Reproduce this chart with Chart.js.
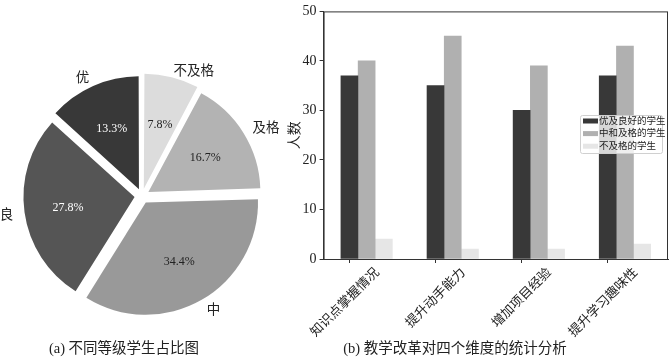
<!DOCTYPE html>
<html>
<head>
<meta charset="utf-8">
<script src="https://cdn.jsdelivr.net/npm/chart.js@4"></script>
<style>
  body { margin: 0; background: #fff; }
  #wrap { position: relative; width: 670px; height: 357px; overflow: hidden; }
  canvas { position: absolute; top: 0; }
  .cap { position: absolute; top: 336px; font: 14.5px 'Liberation Serif', 'Noto Sans CJK SC', serif; color: #222; white-space: nowrap; transform: translateX(-50%); }
</style>
</head>
<body>
<div id="wrap">
  <canvas id="pie" width="280" height="357" style="left:0"></canvas>
  <canvas id="bar" width="390" height="357" style="left:280px"></canvas>
  <div class="cap" style="left:124px">(a) 不同等级学生占比图</div>
  <div class="cap" style="left:455px">(b) 教学改革对四个维度的统计分析</div>
</div>
<script>
// pie data, clockwise from the top
const gradeLabels = ['不及格', '及格', '中', '良', '优'];
const gradeShares = [7.8, 16.7, 34.4, 27.8, 13.3];
const gradeColors = ['#dcdcdc', '#b3b3b3', '#999999', '#555555', '#383838'];
const pctColors = ['#222', '#222', '#222', '#fff', '#fff'];

// bar data
const dims = ['知识点掌握情况', '提升动手能力', '增加项目经验', '提升学习趣味性'];
const seriesNames = ['优及良好的学生', '中和及格的学生', '不及格的学生'];
const goodStudents = [37, 35, 30, 37];
const midStudents = [40, 45, 39, 43];
const failStudents = [4, 2, 2, 3];
const seriesColors = ['#383838', '#b0b0b0', '#e6e6e6'];
const yTicks = [0, 10, 20, 30, 40, 50];

const serif = "'Liberation Serif', 'Noto Sans CJK SC', serif";

const pieLabels = {
  id: 'pieLabels',
  afterDraw(chart) {
    const ctx = chart.ctx;
    const arcs = chart.getDatasetMeta(0).data;
    const shift = 8;
    ctx.save();
    ctx.textBaseline = 'middle';
    arcs.forEach((arc, i) => {
      const a = (arc.startAngle + arc.endAngle) / 2;
      const r = arc.outerRadius;
      const cx = Math.cos(a), cy = Math.sin(a);
      ctx.font = '12px ' + serif;
      ctx.fillStyle = pctColors[i];
      ctx.textAlign = 'center';
      const pr = shift + r * 0.6;
      ctx.fillText(gradeShares[i].toFixed(1) + '%', arc.x + cx * pr, arc.y + cy * pr + 1.5);
      ctx.font = '13.5px ' + serif;
      ctx.fillStyle = '#222';
      ctx.textAlign = cx >= 0 ? 'left' : 'right';
      const lr = shift + r * 1.1;
      ctx.fillText(gradeLabels[i], arc.x + cx * lr, arc.y + cy * lr + 1.5);
    });
    ctx.restore();
  }
};

new Chart(document.getElementById('pie'), {
  type: 'pie',
  data: {
    labels: gradeLabels,
    datasets: [{
      data: gradeShares,
      backgroundColor: gradeColors,
      borderWidth: 0,
      offset: 30,
      hoverOffset: 0
    }]
  },
  options: {
    responsive: false,
    animation: false,
    radius: 111,
    layout: { padding: { left: 30, right: 26, top: 84, bottom: 49 } },
    plugins: { legend: { display: false }, tooltip: { enabled: false } }
  },
  plugins: [pieLabels]
});

const frameAndLegend = {
  id: 'frameAndLegend',
  afterDraw(chart) {
    const ctx = chart.ctx;
    const a = chart.chartArea;
    ctx.save();
    ctx.strokeStyle = '#333';
    ctx.lineWidth = 1;
    ctx.strokeRect(a.left + 0.5, a.top + 0.5, a.right - a.left - 1, a.bottom - a.top);

    // legend box inside the plot, right side
    const bx = a.right - 88, by = 115, bw = 82, bh = 38;
    ctx.fillStyle = 'rgba(255,255,255,0.8)';
    ctx.strokeStyle = '#d0d0d0';
    ctx.beginPath();
    ctx.roundRect(bx + 0.5, by + 0.5, bw, bh, 2);
    ctx.fill();
    ctx.stroke();
    ctx.font = '9.5px ' + serif;
    ctx.textBaseline = 'middle';
    ctx.textAlign = 'left';
    chart.data.datasets.forEach((ds, i) => {
      const y = by + 6 + i * 12.6;
      ctx.fillStyle = ds.backgroundColor;
      ctx.fillRect(bx + 3, y - 2.5, 15, 5);
      ctx.fillStyle = '#222';
      ctx.fillText(ds.label, bx + 19, y);
    });
    ctx.restore();
  }
};

const seriesValues = [goodStudents, midStudents, failStudents];
const barStep = 0.2;

new Chart(document.getElementById('bar'), {
  type: 'bar',
  data: {
    datasets: seriesValues.map((vals, k) => ({
      label: seriesNames[k],
      data: vals.map((v, i) => ({ x: i + k * barStep, y: v })),
      backgroundColor: seriesColors[k],
      borderWidth: 0,
      grouped: false,
      barThickness: 17
    }))
  },
  options: {
    responsive: false,
    animation: false,
    layout: { padding: { top: 7, right: 2, left: 0, bottom: 0 } },
    plugins: { legend: { display: false }, tooltip: { enabled: false } },
    scales: {
      x: {
        type: 'linear',
        offset: false,
        min: -0.3,
        max: 3.7,
        afterBuildTicks: s => { s.ticks = dims.map((d, i) => ({ value: i })); },
        afterFit: s => { s.height = 98; },
        grid: { display: true, offset: false, drawOnChartArea: false, drawTicks: true, tickLength: 4, color: '#333' },
        border: { display: true, color: '#333' },
        ticks: {
          autoSkip: false,
          minRotation: 45,
          maxRotation: 45,
          padding: 2,
          labelOffset: 28,
          color: '#222',
          font: { size: 13, family: serif },
          callback: v => dims[v]
        }
      },
      y: {
        min: 0,
        max: 50,
        afterBuildTicks: s => { s.ticks = yTicks.map(v => ({ value: v })); },
        afterFit: s => { s.width = 41; },
        grid: { display: true, drawOnChartArea: false, drawTicks: true, tickLength: 4, color: '#333' },
        border: { display: true, color: '#333' },
        title: { display: true, text: '人数', color: '#222', font: { size: 14, family: serif }, padding: { top: 4, bottom: 0 } },
        ticks: { padding: 3, color: '#222', font: { size: 14, family: serif } }
      }
    }
  },
  plugins: [frameAndLegend]
});
</script>
</body>
</html>
